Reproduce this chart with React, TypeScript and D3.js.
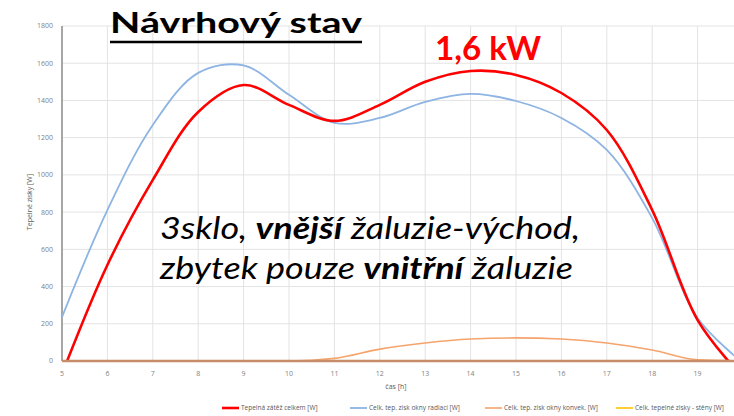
import React from "react";
import * as d3 from "d3";

const width = 734;
const height = 416;

// hours on the x axis
const hours = [5, 6, 7, 8, 9, 10, 11, 12, 13, 14, 15, 16, 17, 18, 19, 20];
const yTicks = [0, 200, 400, 600, 800, 1000, 1200, 1400, 1600, 1800];
const xTicks = [5, 6, 7, 8, 9, 10, 11, 12, 13, 14, 15, 16, 17, 18, 19];

// values [W]
const celkem = [-70, 516, 973, 1338, 1483, 1376, 1290, 1376, 1500, 1558, 1537, 1440, 1241, 811, 220, -90];
const radiace = [236, 811, 1268, 1548, 1588, 1430, 1280, 1306, 1392, 1435, 1397, 1306, 1134, 768, 231, -10];
const konvekce = [0, 0, 0, 0, 0, 0, 14, 64, 97, 118, 124, 118, 97, 59, 6, 0];
const steny = [0, 0, 0, 0, 0, 0, 0, 0, 0, 0, 0, 0, 0, 0, 0, 0];

const series = [
  { name: "Tepelná zátěž celkem [W]", values: celkem, color: "#ff0000", w: 2.6, lx: 222, smooth: true },
  { name: "Celk. tep. zisk okny radiací [W]", values: radiace, color: "#8db4e2", w: 1.8, lx: 350, smooth: true },
  { name: "Celk. tep. zisk okny konvek. [W]", values: konvekce, color: "#f4a46c", w: 1.6, lx: 485, smooth: false },
  { name: "Celk. tepelné zisky - stěny [W]", values: steny, color: "#ffc000", w: 1.6, lx: 616, smooth: false },
];

const x = d3.scaleLinear().domain([5, 20]).range([62, 743]);
const y = d3.scaleLinear().domain([0, 1800]).range([361, 26]);

const makeLine = (smooth: boolean) =>
  d3
    .line<number>()
    .x((_, i) => x(hours[i]))
    .y((d) => y(d))
    .curve(smooth ? d3.curveCatmullRom.alpha(0.5) : d3.curveMonotoneX);

const drawOrder = [3, 2, 1, 0];

export default function App() {
  return (
    <svg width={width} height={height} style={{ display: "block", position: "absolute", left: 0, top: 0, background: "#fff" }}>
      <defs>
        <clipPath id="plot">
          <rect x={62} y={20} width={690} height={342} />
        </clipPath>
      </defs>

      {/* grid */}
      <g stroke="#e3e3e3" strokeWidth={1}>
        {yTicks.map((t) => (
          <line key={"h" + t} x1={62} x2={743} y1={y(t)} y2={y(t)} />
        ))}
        {hours.slice(1).map((t) => (
          <line key={"v" + t} x1={x(t)} x2={x(t)} y1={y(1800)} y2={y(0)} />
        ))}
      </g>

      {/* y axis line */}
      <line x1={62} x2={62} y1={y(1800)} y2={y(0)} stroke="#a6a6a6" strokeWidth={2} />

      {/* tick labels */}
      <g fontFamily="'Open Sans', sans-serif" fontSize={7} fill="#7f7f7f">
        {yTicks.map((t) => (
          <text key={"yl" + t} x={53} y={y(t)} dy="0.35em" textAnchor="end">
            {t}
          </text>
        ))}
        {xTicks.map((t) => (
          <text key={"xl" + t} x={x(t)} y={376} textAnchor="middle">
            {t}
          </text>
        ))}
        <text x={396} y={389} textAnchor="middle" fill="#595959">čas [h]</text>
        <text transform={`translate(32,202) rotate(-90)`} textAnchor="middle" fill="#595959">
          Tepelné zisky [W]
        </text>
      </g>

      {/* series */}
      <g clipPath="url(#plot)" fill="none">
        {drawOrder.map((i) => (
          <path
            key={series[i].name}
            d={makeLine(series[i].smooth)(series[i].values) || ""}
            stroke={series[i].color}
            strokeWidth={series[i].w}
          />
        ))}
      </g>

      {/* zero line */}
      <line x1={62} x2={734} y1={y(0)} y2={y(0)} stroke="#c68d68" strokeWidth={2.6} />

      {/* legend */}
      <g fontFamily="'Open Sans', sans-serif" fontSize={6.5} fill="#595959">
        {series.map((s) => (
          <g key={"lg" + s.name}>
            <line x1={s.lx} x2={s.lx + 17} y1={408} y2={408} stroke={s.color} strokeWidth={s.w} />
            <text x={s.lx + 19} y={408} dy="0.35em">{s.name}</text>
          </g>
        ))}
      </g>

      {/* overlay texts */}
      <text
        x={110}
        y={33}
        fontFamily="Lato, sans-serif"
        fontWeight="bold"
        fontSize={28}
        textLength={252}
        lengthAdjust="spacingAndGlyphs"
        fill="#000"
      >
        Návrhový stav
      </text>
      <line x1={110} x2={362} y1={42} y2={42} stroke="#000" strokeWidth={2.5} />
      <text
        x={435}
        y={60}
        fontFamily="Lato, sans-serif"
        fontWeight="bold"
        fontSize={32}
        textLength={106}
        lengthAdjust="spacingAndGlyphs"
        fill="#ff0000"
      >
        1,6 kW
      </text>
      <g fontFamily="Lato, sans-serif" fontStyle="italic" fontSize={31} fill="#000">
        <text x={160} y={239} textLength={420} lengthAdjust="spacingAndGlyphs">
          3sklo, <tspan fontWeight="bold">vnější</tspan> žaluzie-východ,
        </text>
        <text x={160} y={279} textLength={413} lengthAdjust="spacingAndGlyphs">
          zbytek pouze <tspan fontWeight="bold">vnitřní</tspan> žaluzie
        </text>
      </g>
    </svg>
  );
}
